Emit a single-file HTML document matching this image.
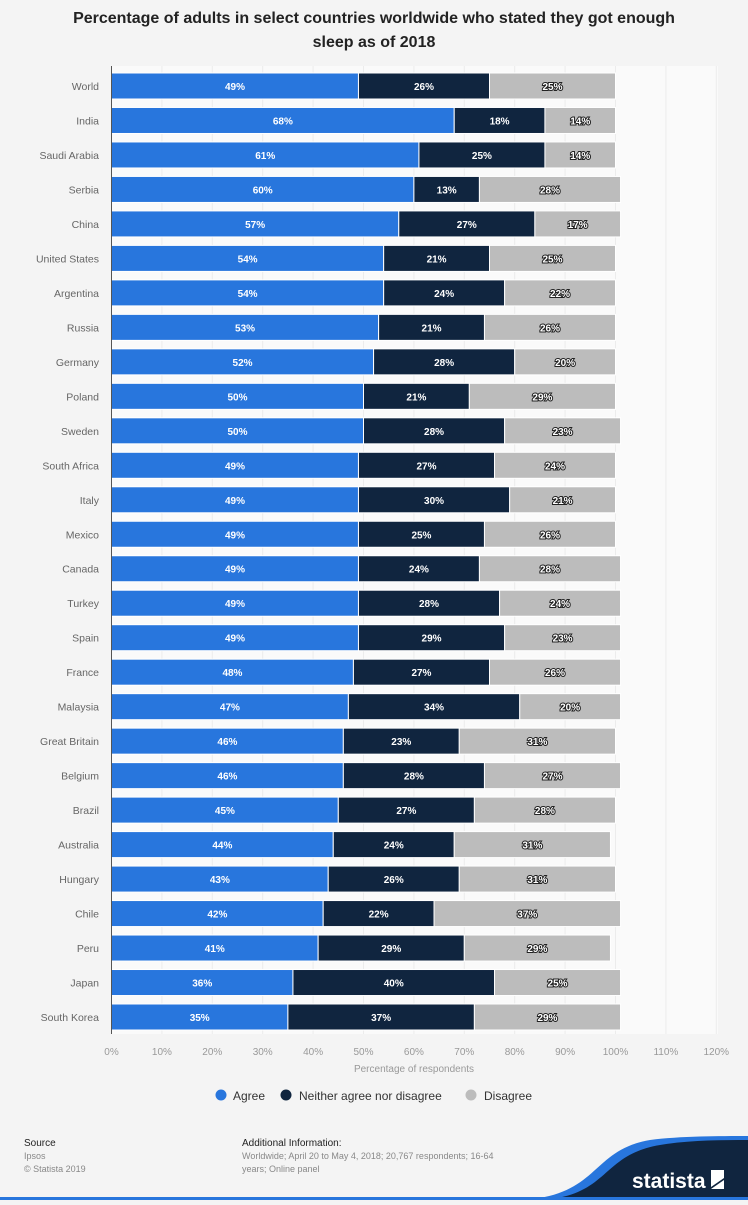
<!DOCTYPE html>
<html><head><meta charset="utf-8"><style>
html,body{margin:0;padding:0;background:#f4f4f4;}
body{width:748px;height:1200px;position:relative;overflow:hidden;font-family:"Liberation Sans",sans-serif;}
</style></head><body>
<svg id="c" width="748" height="1200" xmlns="http://www.w3.org/2000/svg">
<text x="374" y="23" text-anchor="middle" font-size="16" font-weight="bold" fill="#222">Percentage of adults in select countries worldwide who stated they got enough</text>
<text x="374" y="47" text-anchor="middle" font-size="16" font-weight="bold" fill="#222">sleep as of 2018</text>
<rect x="111" y="66" width="607" height="968" fill="#fafafa"/>
<g id="grid"></g><g id="bars"></g><g id="labels"></g><g id="ticks"></g>
<line x1="111.5" y1="66" x2="111.5" y2="1034" stroke="#555" stroke-width="1"/>
<text x="414" y="1072" text-anchor="middle" font-size="10" fill="#999">Percentage of respondents</text>
<g>
<g><circle cx="221" cy="1095" r="5.5" fill="#2876dd"/><text x="233" y="1100" font-size="12" fill="#333">Agree</text></g>
<g><circle cx="286" cy="1095" r="5.5" fill="#10253f"/><text x="299" y="1100" font-size="12" fill="#333">Neither agree nor disagree</text></g>
<g><circle cx="471" cy="1095" r="5.5" fill="#bcbcbc"/><text x="484" y="1100" font-size="12" fill="#333">Disagree</text></g>
</g>
<text x="24" y="1146" font-size="10" fill="#222">Source</text>
<text x="24" y="1159" font-size="9" fill="#888">Ipsos</text>
<text x="24" y="1172" font-size="9" fill="#888">© Statista 2019</text>
<text x="242" y="1146" font-size="10" fill="#222">Additional Information:</text>
<text x="242" y="1159" font-size="9" fill="#888">Worldwide; April 20 to May 4, 2018; 20,767 respondents; 16-64</text>
<text x="242" y="1172" font-size="9" fill="#888">years; Online panel</text>
<path d="M520,1200 C600,1196 590,1150 650,1140 C680,1136 720,1136 748,1136 L748,1200 Z" fill="#2876dd"/>
<path d="M540,1200 C610,1196 600,1155 660,1145 C690,1140 720,1140 748,1140 L748,1200 Z" fill="#10253f"/>
<rect x="0" y="1197" width="748" height="3" fill="#2876dd"/>
<text x="632" y="1188" font-size="21" font-weight="bold" fill="#fff">statista</text>
<path d="M711,1170 h13 v8 l-13,9 z M711,1189 l13,-9 v9 z" fill="#fff"/>
</svg>
<script>
const countries=["World","India","Saudi Arabia","Serbia","China","United States","Argentina","Russia","Germany","Poland","Sweden","South Africa","Italy","Mexico","Canada","Turkey","Spain","France","Malaysia","Great Britain","Belgium","Brazil","Australia","Hungary","Chile","Peru","Japan","South Korea"];
const agree=[49,68,61,60,57,54,54,53,52,50,50,49,49,49,49,49,49,48,47,46,46,45,44,43,42,41,36,35];
const neither=[26,18,25,13,27,21,24,21,28,21,28,27,30,25,24,28,29,27,34,23,28,27,24,26,22,29,40,37];
const disagree=[25,14,14,28,17,25,22,26,20,29,23,24,21,26,28,24,23,26,20,31,27,28,31,31,37,29,25,29];
const xTicks=[0,10,20,30,40,50,60,70,80,90,100,110,120];
const NS="http://www.w3.org/2000/svg";
const X0=111.5,PX=5.04,Y0=86;
const step=(1017-86)/(countries.length-1);
function xs(v){return X0+v*PX;}
function ys(i){return Y0+i*step;}
function mk(t,a,p){const e=document.createElementNS(NS,t);for(const k in a)e.setAttribute(k,a[k]);p.appendChild(e);return e;}
const G=document.getElementById('grid'),B=document.getElementById('bars'),L=document.getElementById('labels'),T=document.getElementById('ticks');
xTicks.forEach(t=>{
 const l=mk('line',{x1:xs(t),x2:xs(t),y1:66,y2:1034,stroke:'#ececec','stroke-width':1},G);
 
 
 const tx=mk('text',{x:xs(t),y:1055,'text-anchor':'middle','font-size':10,fill:'#999'},T);
 tx.textContent=t+'%';
 
 
});
const series=[[agree,'#2876dd','agree'],[neither,'#10253f','neither'],[disagree,'#bcbcbc','disagree']];
countries.forEach((c,i)=>{
 const cy=ys(i);
 const lb=mk('text',{x:99,y:cy+4,'text-anchor':'end','font-size':10.5,fill:'#666'},L);
 lb.textContent=c;
 
 
 let acc=0;
 series.forEach(([arr,col,nm])=>{
  const v=arr[i];
  const r=mk('rect',{x:xs(acc),y:cy-13,width:v*PX,height:26,fill:col,stroke:'#fff','stroke-width':1},B);
  
  
  const t=mk('text',{x:xs(acc+v/2),y:cy+4,'text-anchor':'middle','font-size':10,'font-weight':'bold',fill:'#fff',stroke:'#222','stroke-width':nm==='disagree'?2:0,'paint-order':'stroke'},B);
  t.textContent=v+'%';
  
  
  acc+=v;
 });
});
</script>
</body></html>
